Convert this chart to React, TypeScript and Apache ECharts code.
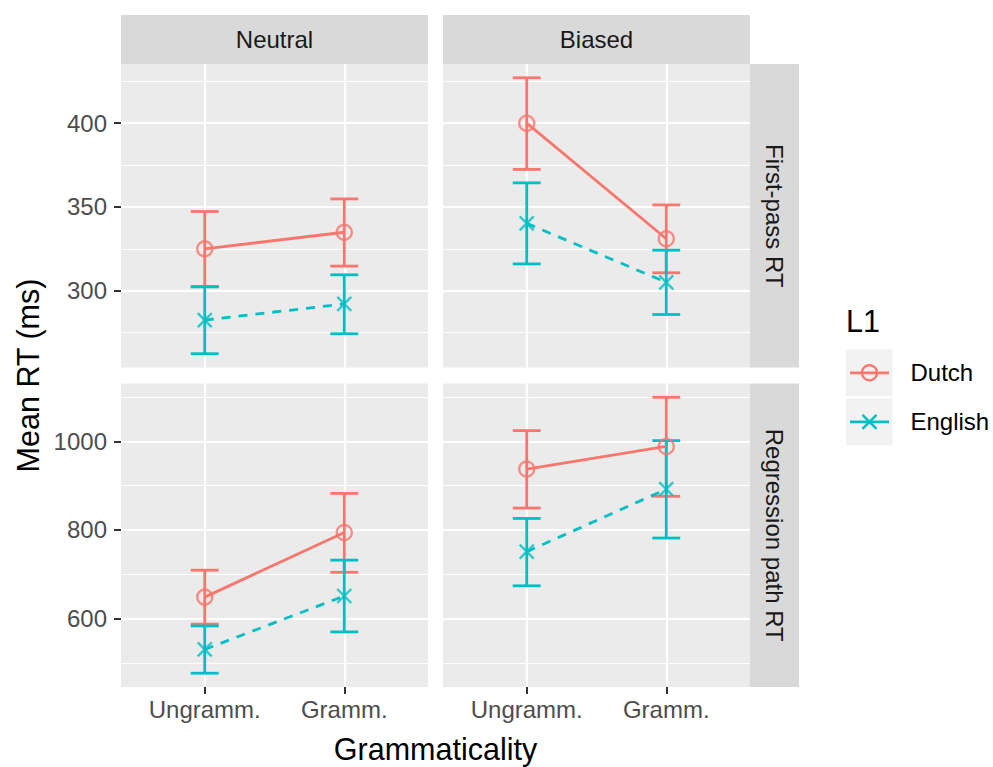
import React, { useEffect, useRef } from "react";
import * as echarts from "echarts";

// ---------- data (panels: FP-Neutral, FP-Biased, RP-Neutral, RP-Biased) ----------
const categories = ["Ungramm.", "Gramm."];
const conditions = ["Neutral", "Biased"];
const measures = ["First-pass RT", "Regression path RT"];
const groups = ["Dutch", "English"];

const dutchMean = [
  [325.0, 334.9],
  [400.0, 331.0],
  [648.5, 794.3],
  [937.5, 988.5],
];
const dutchLower = [
  [302.5, 314.7],
  [372.4, 310.7],
  [587.5, 704.5],
  [849.5, 876.0],
];
const dutchUpper = [
  [347.3, 354.8],
  [427.1, 351.2],
  [709.3, 882.5],
  [1024.2, 1099.4],
];
const englishMean = [
  [282.5, 292.1],
  [340.2, 305.0],
  [530.5, 651.0],
  [751.0, 892.0],
];
const englishLower = [
  [262.4, 274.3],
  [316.0, 285.8],
  [476.8, 570.0],
  [674.0, 781.8],
];
const englishUpper = [
  [302.3, 309.5],
  [364.4, 324.2],
  [583.5, 732.0],
  [826.0, 1001.6],
];

const yMajorTicks = [
  [300, 350, 400],
  [600, 800, 1000],
];
const yMinorTicks = [
  [275, 325, 375, 425],
  [500, 700, 900, 1100],
];

// ---------- styling ----------
const COLORS = ["#F8766D", "#00BFC4"];
const FONT = "'Liberation Sans', Arial, Helvetica, sans-serif";
const PANEL_BG = "#EBEBEB";
const STRIP_BG = "#D9D9D9";
const LINE_W = 2.8;

const PANEL_LEFT = [121, 443];
const PANEL_TOP = [64, 383.5];
const PANEL_W = 307;
const PANEL_H = 303.5;

const CROSS = "path://M0,0L10,10M10,0L0,10";

export default function App() {
  const ref = useRef<HTMLDivElement>(null);

  useEffect(() => {
    document.body.style.margin = "0";
    if (!ref.current) return;
    const chart = echarts.init(ref.current, undefined, { renderer: "svg" });

    // row y ranges: data range with 5% expansion (ggplot default)
    const rowRange = [0, 1].map((row) => {
      const vals: number[] = [];
      [0, 1].forEach((col) => {
        const p = row * 2 + col;
        vals.push(...dutchLower[p], ...dutchUpper[p], ...englishLower[p], ...englishUpper[p]);
      });
      const mn = Math.min(...vals);
      const mx = Math.max(...vals);
      const pad = (mx - mn) * 0.05;
      return [mn - pad, mx + pad];
    });

    const grids: any[] = [];
    const xAxes: any[] = [];
    const yAxes: any[] = [];
    const series: any[] = [];
    const xPos = categories.map((_, i) => i + 1);

    for (let row = 0; row < 2; row++) {
      for (let col = 0; col < 2; col++) {
        const p = row * 2 + col;
        grids.push({
          left: PANEL_LEFT[col],
          top: PANEL_TOP[row],
          width: PANEL_W,
          height: PANEL_H,
          show: true,
          backgroundColor: PANEL_BG,
          borderWidth: 0,
          containLabel: false,
        });
        xAxes.push({
          type: "value",
          gridIndex: p,
          min: 0.4,
          max: 2.6,
          axisLine: { show: false },
          splitLine: { show: false },
          axisTick: {
            show: row === 1,
            customValues: xPos,
            length: 7,
            lineStyle: { color: "#333333", width: 2 },
          },
          axisLabel: {
            show: row === 1,
            customValues: xPos,
            formatter: (v: number) => categories[Math.round(v) - 1] ?? "",
            fontSize: 24,
            color: "#4D4D4D",
            fontFamily: FONT,
            margin: 10,
          },
        });
        yAxes.push({
          type: "value",
          gridIndex: p,
          min: rowRange[row][0],
          max: rowRange[row][1],
          axisLine: { show: false },
          splitLine: { show: false },
          axisTick: {
            show: col === 0,
            customValues: yMajorTicks[row],
            length: 7,
            lineStyle: { color: "#333333", width: 2 },
          },
          axisLabel: {
            show: col === 0,
            customValues: yMajorTicks[row],
            formatter: (v: number) => String(v),
            fontSize: 24,
            color: "#4D4D4D",
            fontFamily: FONT,
            margin: 14,
          },
        });

        // grid lines
        series.push({
          type: "line",
          xAxisIndex: p,
          yAxisIndex: p,
          data: [],
          z: 1,
          silent: true,
          markLine: {
            silent: true,
            z: 1,
            symbol: ["none", "none"],
            label: { show: false },
            animation: false,
            data: [
              ...yMinorTicks[row].map((v) => ({ yAxis: v, lineStyle: { color: "#FFFFFF", width: 1.1, type: "solid" } })),
              ...yMajorTicks[row].map((v) => ({ yAxis: v, lineStyle: { color: "#FFFFFF", width: 2.2, type: "solid" } })),
              ...xPos.map((v) => ({ xAxis: v, lineStyle: { color: "#FFFFFF", width: 2.2, type: "solid" } })),
            ],
          },
        });

        const means = [dutchMean[p], englishMean[p]];
        const lows = [dutchLower[p], englishLower[p]];
        const highs = [dutchUpper[p], englishUpper[p]];

        // error bars
        groups.forEach((g, gi) => {
          series.push({
            type: "custom",
            name: g,
            xAxisIndex: p,
            yAxisIndex: p,
            z: 2,
            silent: true,
            encode: { x: 0, y: [1, 2] },
            data: xPos.map((x, i) => [x, lows[gi][i], highs[gi][i]]),
            renderItem: (_params: any, api: any) => {
              const x = api.value(0);
              const lo = api.value(1);
              const hi = api.value(2);
              const pLo = api.coord([x, lo]);
              const pHi = api.coord([x, hi]);
              const l = api.coord([x - 0.1, hi])[0];
              const r = api.coord([x + 0.1, hi])[0];
              const style = { stroke: COLORS[gi], lineWidth: LINE_W, fill: "none" };
              return {
                type: "group",
                children: [
                  { type: "line", shape: { x1: pLo[0], y1: pLo[1], x2: pHi[0], y2: pHi[1] }, style },
                  { type: "line", shape: { x1: l, y1: pHi[1], x2: r, y2: pHi[1] }, style },
                  { type: "line", shape: { x1: l, y1: pLo[1], x2: r, y2: pLo[1] }, style },
                ],
              };
            },
          });
        });

        // lines
        groups.forEach((g, gi) => {
          series.push({
            type: "line",
            name: g,
            xAxisIndex: p,
            yAxisIndex: p,
            z: 3,
            silent: true,
            symbol: "none",
            data: xPos.map((x, i) => [x, means[gi][i]]),
            lineStyle: {
              color: COLORS[gi],
              width: LINE_W,
              type: gi === 0 ? "solid" : [9, 8],
            },
          });
        });

        // points
        groups.forEach((g, gi) => {
          series.push({
            type: "scatter",
            name: g,
            xAxisIndex: p,
            yAxisIndex: p,
            z: 4,
            silent: true,
            symbol: gi === 0 ? "circle" : CROSS,
            symbolSize: gi === 0 ? 15 : 14,
            data: xPos.map((x, i) => [x, means[gi][i]]),
            itemStyle: {
              color: "rgba(0,0,0,0)",
              borderColor: COLORS[gi],
              borderWidth: 2.4,
            },
          });
        });
      }
    }

    // strips, titles and legend
    const textStyle = (text: string, size: number, color: string) => ({
      text,
      x: 0,
      y: 0,
      fontSize: size,
      fontFamily: FONT,
      fill: color,
      align: "center",
      verticalAlign: "middle",
    });

    const graphics: any[] = [];
    conditions.forEach((c, col) => {
      graphics.push({
        type: "rect",
        shape: { x: PANEL_LEFT[col], y: 15, width: PANEL_W, height: PANEL_TOP[0] - 15 },
        style: { fill: STRIP_BG },
      });
      graphics.push({
        type: "text",
        x: PANEL_LEFT[col] + PANEL_W / 2,
        y: 39.5,
        style: textStyle(c, 24, "#1A1A1A"),
      });
    });
    measures.forEach((m, row) => {
      graphics.push({
        type: "rect",
        shape: { x: PANEL_LEFT[1] + PANEL_W, y: PANEL_TOP[row], width: 49, height: PANEL_H },
        style: { fill: STRIP_BG },
      });
      graphics.push({
        type: "text",
        x: PANEL_LEFT[1] + PANEL_W + 24.5,
        y: PANEL_TOP[row] + PANEL_H / 2,
        rotation: -Math.PI / 2,
        style: textStyle(m, 24, "#1A1A1A"),
      });
    });
    graphics.push({
      type: "text",
      x: (PANEL_LEFT[0] + PANEL_LEFT[1] + PANEL_W) / 2,
      y: 749,
      style: textStyle("Grammaticality", 30.5, "#000000"),
    });
    graphics.push({
      type: "text",
      x: 28,
      y: (PANEL_TOP[0] + PANEL_TOP[1] + PANEL_H) / 2,
      rotation: Math.PI / 2,
      style: textStyle("Mean RT (ms)", 30.5, "#000000"),
    });

    // legend
    graphics.push({
      type: "text",
      x: 846,
      y: 321,
      style: { ...textStyle("L1", 30.5, "#000000"), align: "left" },
    });
    groups.forEach((g, gi) => {
      const top = 349.5 + gi * 49;
      const cy = top + 23.3;
      graphics.push({
        type: "rect",
        shape: { x: 846, y: top, width: 46.7, height: 46.7 },
        style: { fill: "#F2F2F2" },
      });
      graphics.push({
        type: "line",
        shape: { x1: 850, y1: cy, x2: 889, y2: cy },
        style: { stroke: COLORS[gi], lineWidth: LINE_W },
      });
      if (gi === 0) {
        graphics.push({
          type: "circle",
          shape: { cx: 869.5, cy, r: 7.5 },
          style: { stroke: COLORS[gi], lineWidth: 2.4, fill: "none" },
        });
      } else {
        graphics.push({
          type: "line",
          shape: { x1: 862.5, y1: cy - 7, x2: 876.5, y2: cy + 7 },
          style: { stroke: COLORS[gi], lineWidth: 2.4 },
        });
        graphics.push({
          type: "line",
          shape: { x1: 876.5, y1: cy - 7, x2: 862.5, y2: cy + 7 },
          style: { stroke: COLORS[gi], lineWidth: 2.4 },
        });
      }
      graphics.push({
        type: "text",
        x: 910.5,
        y: cy,
        style: { ...textStyle(g, 24, "#000000"), align: "left" },
      });
    });

    chart.setOption({
      animation: false,
      backgroundColor: "#FFFFFF",
      grid: grids,
      xAxis: xAxes,
      yAxis: yAxes,
      series,
      graphic: { elements: graphics },
    });

    return () => chart.dispose();
  }, []);

  return <div ref={ref} style={{ width: 993, height: 767 }} />;
}
